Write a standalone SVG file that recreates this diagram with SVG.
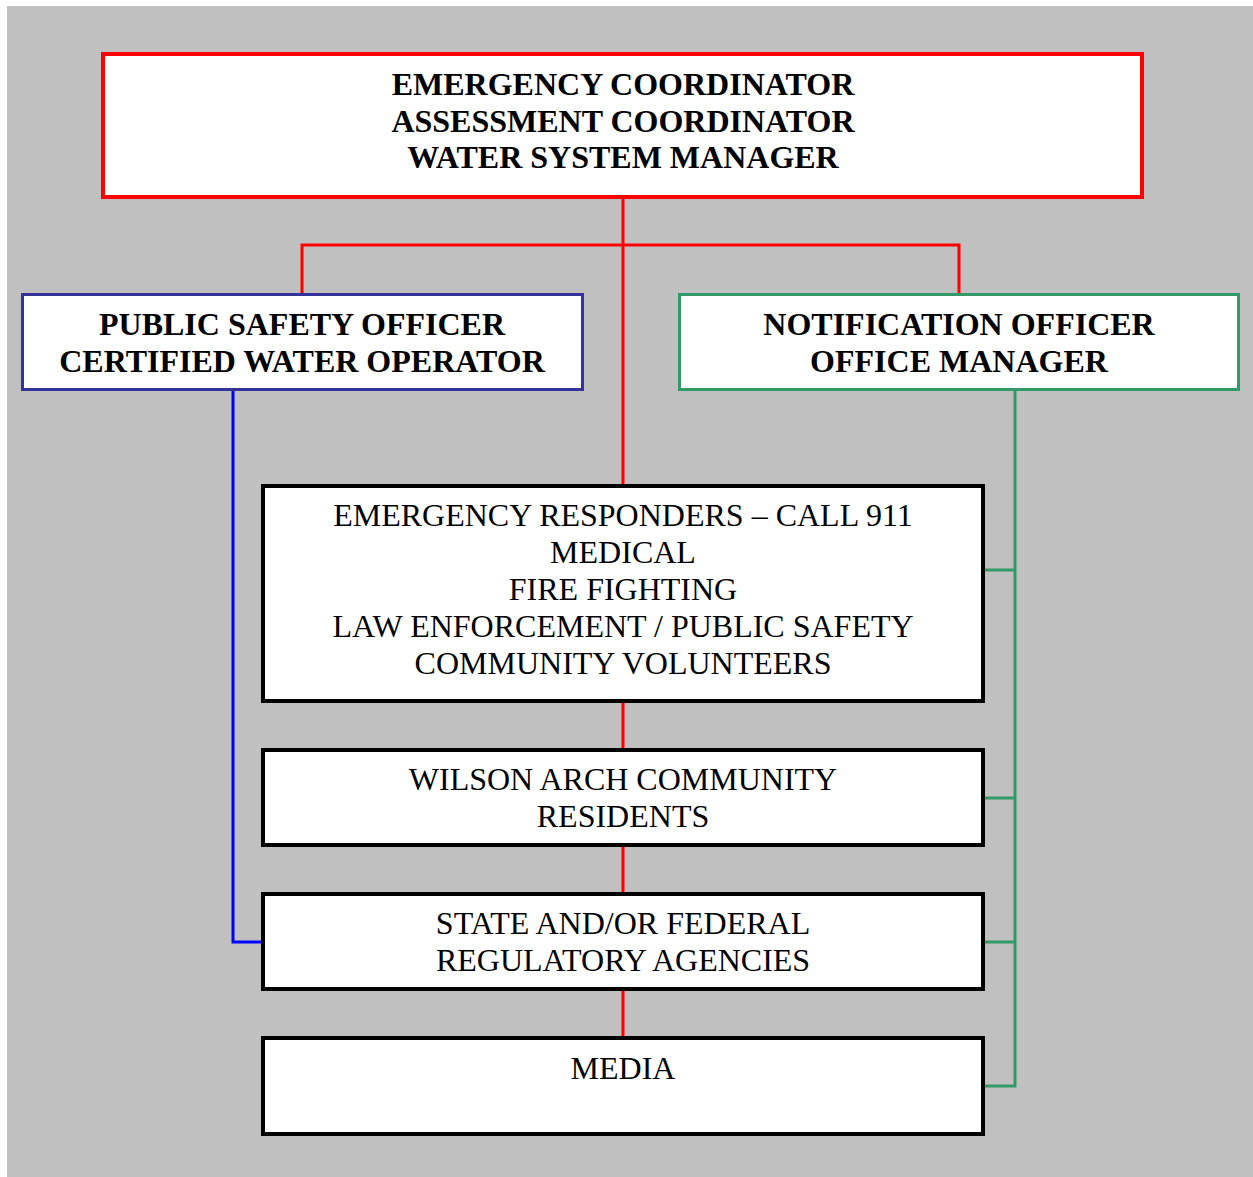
<svg xmlns="http://www.w3.org/2000/svg" width="1253" height="1177" viewBox="0 0 1253 1177">
<style>
.box{fill:#fff}
.t{font-family:"Liberation Serif","Times New Roman",serif;font-size:32px;fill:#000;text-anchor:middle}
.b{font-weight:bold}
.red{stroke:#ff0000;stroke-width:3;fill:none}
.blue{stroke:#0000ff;stroke-width:3;fill:none}
.green{stroke:#339966;stroke-width:3;fill:none}
</style>
<rect x="7" y="6" width="1246" height="1171" fill="#c0c0c0"/>
<g id="connectors">
<path class="red" d="M623 199V484M302 293V245H959V293M623 703V748M623 847V892M623 991V1036"/>
<path class="blue" d="M233 390V942H263"/>
<path class="green" d="M1015 390V1086H983M983 570H1015M983 798H1015M983 942H1015"/>
</g>
<g id="top">
<rect class="box" x="103" y="54" width="1039" height="143" stroke="#ff0000" stroke-width="4"/>
<text class="t b" x="623" y="95">EMERGENCY COORDINATOR</text>
<text class="t b" x="623" y="132">ASSESSMENT COORDINATOR</text>
<text class="t b" x="623" y="168">WATER SYSTEM MANAGER</text>
</g>
<g id="pso">
<rect class="box" x="22.5" y="294.5" width="560" height="95" stroke="#333399" stroke-width="3"/>
<text class="t b" x="302" y="335">PUBLIC SAFETY OFFICER</text>
<text class="t b" x="302" y="372">CERTIFIED WATER OPERATOR</text>
</g>
<g id="notification">
<rect class="box" x="679.5" y="294.5" width="559" height="95" stroke="#339966" stroke-width="3"/>
<text class="t b" x="959" y="335">NOTIFICATION OFFICER</text>
<text class="t b" x="959" y="372">OFFICE MANAGER</text>
</g>
<g id="responders">
<rect class="box" x="263" y="486" width="720" height="215" stroke="#000" stroke-width="4"/>
<text class="t" x="623" y="526">EMERGENCY RESPONDERS – CALL 911</text>
<text class="t" x="623" y="563">MEDICAL</text>
<text class="t" x="623" y="600">FIRE FIGHTING</text>
<text class="t" x="623" y="637">LAW ENFORCEMENT / PUBLIC SAFETY</text>
<text class="t" x="623" y="674">COMMUNITY VOLUNTEERS</text>
</g>
<g id="wilson">
<rect class="box" x="263" y="750" width="720" height="95" stroke="#000" stroke-width="4"/>
<text class="t" x="623" y="790">WILSON ARCH COMMUNITY</text>
<text class="t" x="623" y="827">RESIDENTS</text>
</g>
<g id="state">
<rect class="box" x="263" y="894" width="720" height="95" stroke="#000" stroke-width="4"/>
<text class="t" x="623" y="934">STATE AND/OR FEDERAL</text>
<text class="t" x="623" y="971">REGULATORY AGENCIES</text>
</g>
<g id="media">
<rect class="box" x="263" y="1038" width="720" height="96" stroke="#000" stroke-width="4"/>
<text class="t" x="623" y="1079">MEDIA</text>
</g>
</svg>
